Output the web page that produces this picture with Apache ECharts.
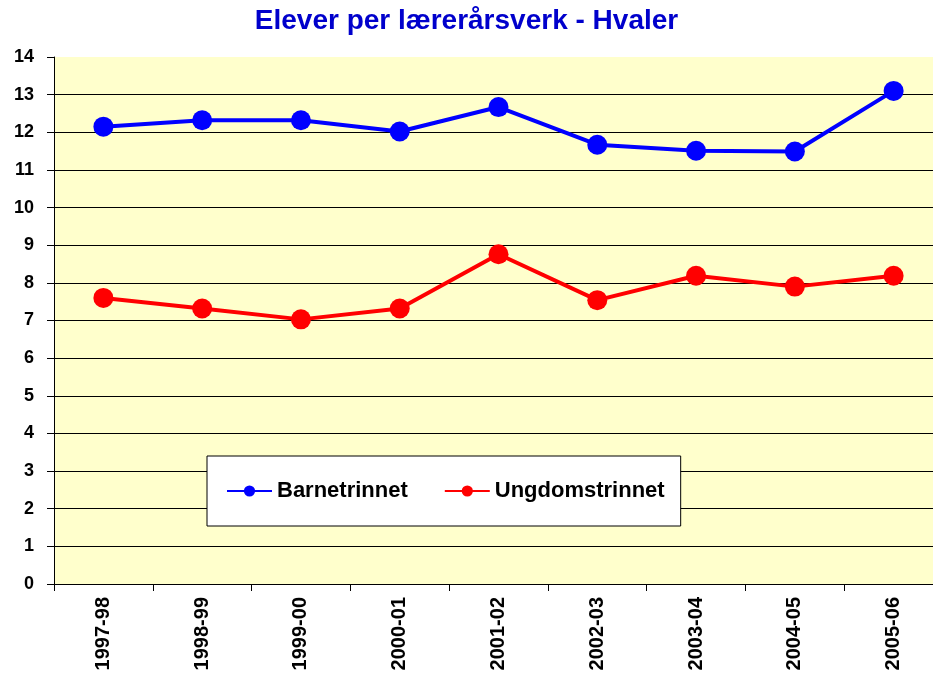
<!DOCTYPE html>
<html>
<head>
<meta charset="utf-8">
<title>Elever per lærerårsverk - Hvaler</title>
<script src="https://cdn.jsdelivr.net/npm/echarts@6/dist/echarts.min.js"></script>
<style>
  html, body { margin: 0; padding: 0; background: #fff; }
  #chart { width: 933px; height: 677px; }
</style>
</head>
<body>
<div id="chart"></div>
<script>
  // skoleår
  const categories = ['1997-98', '1998-99', '1999-00', '2000-01', '2001-02', '2002-03', '2003-04', '2004-05', '2005-06']
  // elever per lærerårsverk
  const barnetrinnet = [12.15, 12.32, 12.32, 12.02, 12.67, 11.67, 11.51, 11.49, 13.1]
  const ungdomstrinnet = [7.6, 7.32, 7.03, 7.32, 8.76, 7.54, 8.19, 7.9, 8.19]

  const font = "'Liberation Sans', Arial, sans-serif"

  const chart = echarts.init(document.getElementById('chart'))
  chart.setOption({
    animation: false,
    backgroundColor: '#ffffff',
    title: {
      text: 'Elever per lærerårsverk - Hvaler',
      left: 'center',
      top: 7,
      padding: 0,
      textStyle: { color: '#0000cc', fontSize: 28, fontWeight: 'bold', fontFamily: font }
    },
    grid: {
      left: 54,
      top: 57,
      width: 889,
      height: 527,
      containLabel: false,
      outerBoundsMode: 'none',
      show: true,
      backgroundColor: '#ffffcc',
      borderWidth: 0
    },
    legend: {
      left: 207,
      top: 456,
      padding: [24, 16, 24, 19],
      itemGap: 36,
      itemWidth: 45,
      itemHeight: 14,
      backgroundColor: '#ffffff',
      borderColor: '#000000',
      borderWidth: 1,
      textStyle: { color: '#000', fontSize: 22, fontWeight: 'bold', fontFamily: font },
      data: ['Barnetrinnet', 'Ungdomstrinnet']
    },
    xAxis: {
      type: 'category',
      data: categories,
      boundaryGap: true,
      axisLine: { lineStyle: { color: '#000', width: 1 } },
      axisTick: { show: true, interval: 0, length: 7, lineStyle: { color: '#000' } },
      axisLabel: {
        interval: 0,
        rotate: 90,
        margin: 13,
        color: '#000',
        fontSize: 20,
        fontWeight: 'bold',
        fontFamily: font
      },
      splitLine: { show: false }
    },
    yAxis: {
      type: 'value',
      min: 0,
      max: 14,
      interval: 1,
      axisLine: { show: true, lineStyle: { color: '#000', width: 1 } },
      axisTick: { show: true, length: 7, lineStyle: { color: '#000' } },
      axisLabel: { margin: 20, color: '#000', fontSize: 18, fontWeight: 'bold', fontFamily: font },
      splitLine: { show: true, showMaxLine: false, lineStyle: { color: '#000', width: 1 } }
    },
    series: [
      {
        name: 'Barnetrinnet',
        type: 'line',
        data: barnetrinnet,
        symbol: 'circle',
        symbolSize: 20,
        color: '#0000ff',
        lineStyle: { width: 4, color: '#0000ff' },
        itemStyle: { color: '#0000ff' }
      },
      {
        name: 'Ungdomstrinnet',
        type: 'line',
        data: ungdomstrinnet,
        symbol: 'circle',
        symbolSize: 20,
        color: '#ff0000',
        lineStyle: { width: 4, color: '#ff0000' },
        itemStyle: { color: '#ff0000' }
      }
    ]
  })
</script>
</body>
</html>
